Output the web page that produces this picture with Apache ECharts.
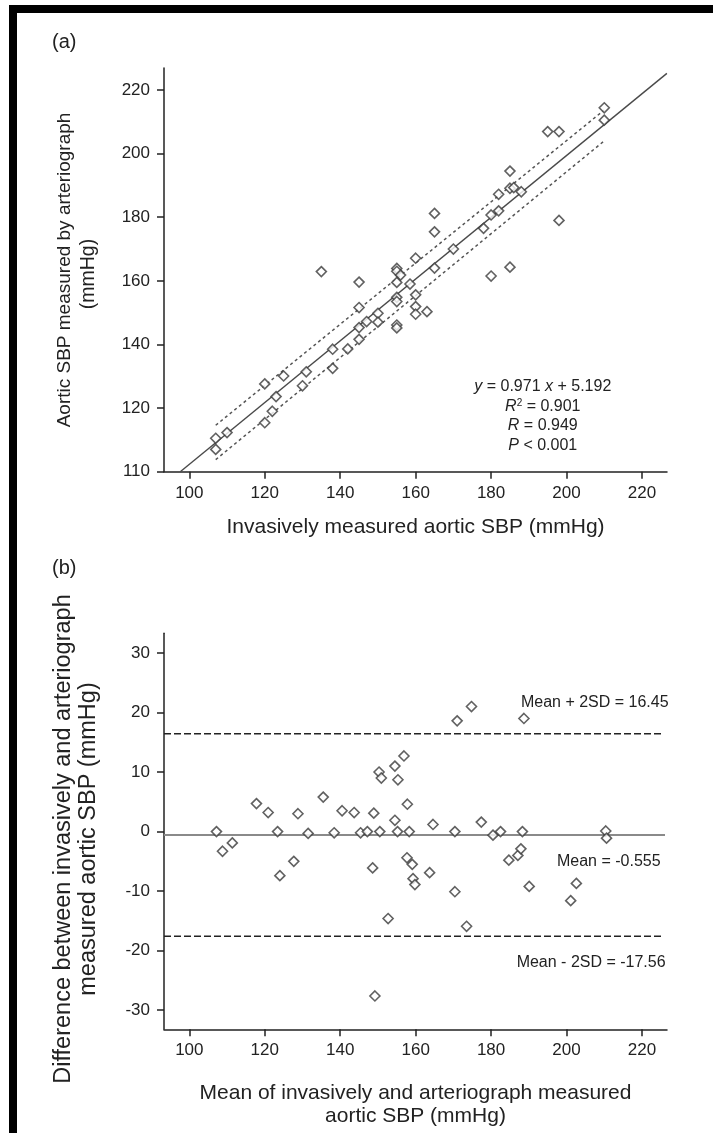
<!DOCTYPE html>
<html><head><meta charset="utf-8">
<script src="https://cdn.jsdelivr.net/npm/echarts@6/dist/echarts.min.js"></script>
<style>html,body{margin:0;padding:0;background:#fff}#c{width:713px;height:1133px}</style>
</head><body><div id="c"></div>
<script>
// ---- tick values / labels ----
const xTickValues = [100, 120, 140, 160, 180, 200, 220];
const yTickValuesA = [100, 120, 140, 160, 180, 200, 220];
const yTickLabelsA = ['110', '120', '140', '160', '180', '200', '220'];
const yTickValuesB = [-30, -20, -10, 0, 10, 20, 30];

// ---- panel (a): invasive vs arteriograph aortic SBP ----
const invasiveA = [107,107,110,120,120,122,123,125,130,131,138,138,135,142,145,145,145,145,147,150,150,155,155,155,156,155,155,155,155,158.5,160,160,160,163,160,165,165,165,170,178,180,182,180,185,182,185,186,188,185,195,198,198,210,210];
const arteriographA = [110.5,107,112.3,127.6,115.4,119,123.6,130.1,127,131.4,138.5,132.5,162.9,138.6,159.6,151.6,141.6,145.3,147.2,149.8,147,163.9,163,159.5,161.8,154.8,153.5,146.1,145.2,159,155.6,151.9,149.5,150.3,167.1,164,181.2,175.4,170,176.5,180.7,182,161.5,164.3,187.2,189.1,189.3,188,194.5,206.9,206.9,179,214.4,210.5];
const regressionX = [97.6, 226.6];
const regressionY = [100, 225.2];
const upperBandX = [107, 210];
const upperBandY = [114.6, 213.7];
const lowerBandX = [107, 210];
const lowerBandY = [103.8, 204.0];

// ---- panel (b): Bland-Altman ----
const meanB = [107.2,108.8,111.4,117.8,120.9,123.4,124.0,127.7,128.8,131.5,135.5,138.4,140.5,143.7,145.4,147.2,148.9,148.6,150.5,150.3,150.9,154.5,155.2,154.5,155.3,152.7,149.2,156.9,157.8,158.3,164.6,170.4,171.0,174.8,177.4,180.5,182.5,188.3,188.7,210.4,210.6,157.7,159.1,163.7,184.7,187.1,187.9,159.3,159.8,170.4,173.5,190.1,202.6,201.1];
const diffB = [0,-3.3,-1.9,4.7,3.2,0,-7.4,-5.0,3.0,-0.3,5.8,-0.2,3.5,3.2,-0.2,0,3.1,-6.1,0,10.0,9.0,1.9,0,11.0,8.7,-14.6,-27.6,12.7,4.6,0,1.2,0,18.6,21.0,1.6,-0.6,0,0,19.0,0.1,-1.1,-4.4,-5.5,-6.9,-4.8,-4.0,-2.9,-7.9,-8.9,-10.1,-15.9,-9.2,-8.7,-11.6];
const meanDiff = -0.555;
const upperLoA = 16.45;
const lowerLoA = -17.56;
const loaLabels = ['Mean + 2SD = 16.45', 'Mean = -0.555', 'Mean - 2SD = -17.56'];

// ---- build ----
const font = "'Liberation Sans', Arial, Helvetica, sans-serif";
const ink = '#222';
const zip = (a, b) => a.map((v, i) => [v, b[i]]);

function xAxisCfg(gridIndex, name, nameGap) {
  return {
    type: 'value', gridIndex, min: 93.29, max: 226.63,
    name, nameLocation: 'middle', nameGap,
    nameTextStyle: { fontFamily: font, fontSize: 21, color: ink, lineHeight: 23 },
    axisLine: { show: true, onZero: false, lineStyle: { color: ink, width: 1.5 } },
    axisTick: { show: true, length: 7, customValues: xTickValues, lineStyle: { color: ink, width: 1.5 } },
    axisLabel: { customValues: xTickValues, margin: 13, fontFamily: font, fontSize: 17, color: ink },
    splitLine: { show: false }
  };
}
function yAxisCfg(gridIndex, min, max, ticks, fmt) {
  return {
    type: 'value', gridIndex, min, max,
    axisLine: { show: true, onZero: false, lineStyle: { color: ink, width: 1.5 } },
    axisTick: { show: true, length: 7, customValues: ticks, lineStyle: { color: ink, width: 1.5 } },
    axisLabel: { customValues: ticks, margin: 14, fontFamily: font, fontSize: 17, color: ink, formatter: fmt },
    splitLine: { show: false }
  };
}
const diamond = {
  type: 'scatter', symbol: 'diamond', symbolSize: 10, z: 5,
  itemStyle: { color: '#fff', borderColor: '#3a3a3a', borderWidth: 1.6 }
};

const chart = echarts.init(document.getElementById('c'), null, { renderer: 'canvas' });
const option = {
  backgroundColor: '#fff',
  animation: false,
  grid: [
    { left: 164, right: 46, top: 68, height: 403.7 },
    { left: 164, right: 46, top: 633.3, height: 396 }
  ],
  xAxis: [
    xAxisCfg(0, 'Invasively measured aortic SBP (mmHg)', 44),
    xAxisCfg(1, 'Mean of invasively and arteriograph measured\naortic SBP (mmHg)', 52)
  ],
  yAxis: [
    yAxisCfg(0, 100, 226.9, yTickValuesA, v => yTickLabelsA[yTickValuesA.indexOf(v)]),
    yAxisCfg(1, -33.2, 33.3, yTickValuesB, v => String(v))
  ],
  series: [
    Object.assign({}, diamond, { xAxisIndex: 0, yAxisIndex: 0, data: zip(invasiveA, arteriographA) }),
    { type: 'line', xAxisIndex: 0, yAxisIndex: 0, data: zip(regressionX, regressionY), showSymbol: false, symbol: 'none', clip: true,
      lineStyle: { color: '#4a4a4a', width: 1.4 } },
    { type: 'line', xAxisIndex: 0, yAxisIndex: 0, data: zip(upperBandX, upperBandY), showSymbol: false, symbol: 'none',
      lineStyle: { color: '#555', width: 1.5, type: [3, 3] } },
    { type: 'line', xAxisIndex: 0, yAxisIndex: 0, data: zip(lowerBandX, lowerBandY), showSymbol: false, symbol: 'none',
      lineStyle: { color: '#555', width: 1.5, type: [3, 3] } },
    Object.assign({}, diamond, { xAxisIndex: 1, yAxisIndex: 1, data: zip(meanB, diffB) }),
    { type: 'line', xAxisIndex: 1, yAxisIndex: 1, data: [[93.29, meanDiff], [226.1, meanDiff]], showSymbol: false, symbol: 'none',
      lineStyle: { color: '#8a8a8a', width: 2 } },
    { type: 'line', xAxisIndex: 1, yAxisIndex: 1, data: [[93.29, upperLoA], [225.2, upperLoA]], showSymbol: false, symbol: 'none',
      lineStyle: { color: '#222', width: 1.5, type: [7, 3] } },
    { type: 'line', xAxisIndex: 1, yAxisIndex: 1, data: [[93.29, lowerLoA], [225.2, lowerLoA]], showSymbol: false, symbol: 'none',
      lineStyle: { color: '#222', width: 1.5, type: [7, 3] } }
  ]
};
chart.setOption(option);

// text annotations anchored to data via the axes
const p = (x, y, gi) => chart.convertToPixel({ xAxisIndex: gi, yAxisIndex: gi }, [x, y]);
const pUp = p(225.2, upperLoA, 1), pMean = p(225.2, meanDiff, 1), pLow = p(225.2, lowerLoA, 1);
const eqAnchor = p(193.7, 100, 0);
const txt = (x, y, text, extra) => ({ type: 'text', x, y, style: Object.assign({ text, fontFamily: font, fill: ink }, extra) });
const rich = { i: { fontStyle: 'italic', fontFamily: font, fontSize: 16, fill: ink }, s: { fontFamily: font, fontSize: 10, verticalAlign: 'top', fill: ink } };
const eqStyle = { fontSize: 16, align: 'center', verticalAlign: 'middle', rich };
const vtxt = (x, y, text, size) => ({ type: 'text', x, y, rotation: Math.PI / 2,
  style: { text, fontFamily: font, fontSize: size, fill: ink, align: 'center', verticalAlign: 'middle' } });

chart.setOption({
  graphic: [
    { type: 'rect', shape: { x: 9, y: 5, width: 704, height: 8 }, style: { fill: '#000' } },
    { type: 'rect', shape: { x: 9, y: 5, width: 8, height: 1128 }, style: { fill: '#000' } },
    txt(52, 42, '(a)', { fontSize: 20, verticalAlign: 'middle' }),
    txt(52, 568, '(b)', { fontSize: 20, verticalAlign: 'middle' }),
    vtxt(65, 270, 'Aortic SBP measured by arteriograph', 19),
    vtxt(89, 274, '(mmHg)', 19.5),
    vtxt(64, 839, 'Difference between invasively and arteriograph', 23.5),
    vtxt(89, 839, 'measured aortic SBP (mmHg)', 23.5),
    txt(eqAnchor[0], 387, '{i|y} = 0.971 {i|x} + 5.192', eqStyle),
    txt(eqAnchor[0], 406.5, '{i|R}{s|2} = 0.901', eqStyle),
    txt(eqAnchor[0], 426, '{i|R} = 0.949', eqStyle),
    txt(eqAnchor[0], 445.5, '{i|P} < 0.001', eqStyle),
    txt(pUp[0] + 7, pUp[1] - 31, loaLabels[0], { fontSize: 16, align: 'right', verticalAlign: 'middle' }),
    txt(pMean[0] - 1, pMean[1] + 27, loaLabels[1], { fontSize: 16, align: 'right', verticalAlign: 'middle' }),
    txt(pLow[0] + 4, pLow[1] + 26, loaLabels[2], { fontSize: 16, align: 'right', verticalAlign: 'middle' })
  ]
});
</script></body></html>
